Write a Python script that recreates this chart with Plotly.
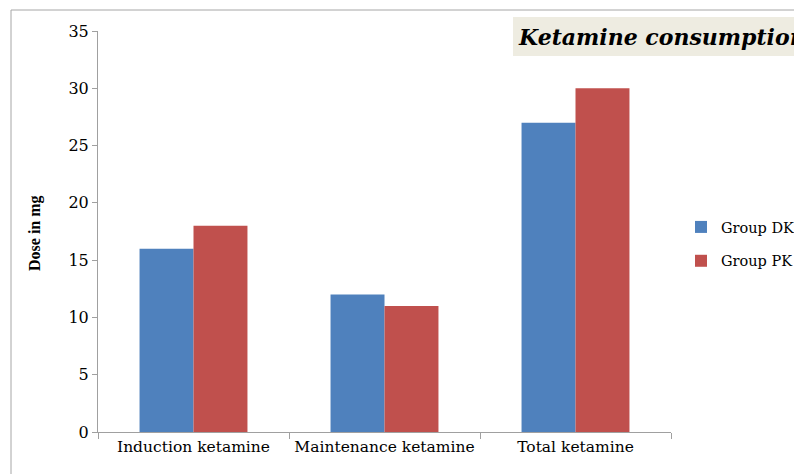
import plotly.graph_objects as go

categories = ["Induction ketamine", "Maintenance ketamine", "Total ketamine"]
group_dk = [16, 12, 27]
group_pk = [18, 11, 30]
y_ticks = [0, 5, 10, 15, 20, 25, 30, 35]

# page has 8px body margin; figure is 794x466 placed at (8, 8)
L, T = 90, 23
PW, PH = 573, 401

def px(xp):
    return (xp - 8 - L) / PW

def py(yp):
    return (T + PH - (yp - 8)) / PH

tick_font = dict(family="DejaVu Serif", size=15.5, color="#000000")

fig = go.Figure()
fig.add_trace(go.Bar(name="Group DK", x=categories, y=group_dk, marker_color="#4F81BD",
                     marker_line_width=0, legendgroup="dk"))
fig.add_trace(go.Bar(name="Group PK", x=categories, y=group_pk, marker_color="#C0504D",
                     marker_line_width=0, legendgroup="pk"))

fig.update_layout(
    width=794, height=466,
    margin=dict(l=L, r=794 - L - PW, t=T, b=466 - T - PH, autoexpand=False),
    paper_bgcolor="white", plot_bgcolor="white",
    barmode="group", bargap=0.435, bargroupgap=0,
    showlegend=True,
    legend=dict(x=px(681), y=py(244), xanchor="left", yanchor="middle",
                font=dict(family="DejaVu Serif", size=14.5, color="#000000"),
                bgcolor="rgba(0,0,0,0)", itemwidth=30, tracegroupgap=12),
    xaxis=dict(showline=True, linecolor="#A0A0A0", linewidth=1,
               ticks="outside", tickson="boundaries", ticklen=6, tickcolor="#A0A0A0",
               tickfont=tick_font, showgrid=False, tickangle=0, automargin=False),
    yaxis=dict(range=[0, 35], tickvals=y_ticks, showline=True, linecolor="#A0A0A0", linewidth=1,
               ticks="outside", ticklen=5, tickcolor="#A0A0A0",
               tickfont=dict(family="DejaVu Serif", size=16, color="#000000"),
               showgrid=False, zeroline=False, automargin=False),
    shapes=[
        dict(type="rect", xref="paper", yref="paper", x0=px(11), y0=-0.3, x1=1.5, y1=py(10),
             line=dict(color="#A6A6A6", width=1), fillcolor="rgba(0,0,0,0)", layer="below"),
        dict(type="rect", xref="paper", yref="paper", x0=px(513), y0=py(56), x1=1.5, y1=py(17),
             line=dict(width=0), fillcolor="#EEECE1", layer="below"),
    ],
    annotations=[
        dict(text="<b><i>Ketamine consumption</i></b>", xref="paper", yref="paper",
             x=px(516), y=py(37), xanchor="left", yanchor="middle", showarrow=False,
             font=dict(family="DejaVu Serif", size=22, color="#000000")),
        dict(text="<b>Dose in mg</b>", xref="paper", yref="paper",
             x=px(35), y=py(233), xanchor="center", yanchor="middle", showarrow=False,
             textangle=-90,
             font=dict(family="Liberation Serif", size=16, color="#000000")),
    ],
)

fig.write_html("out.html")
